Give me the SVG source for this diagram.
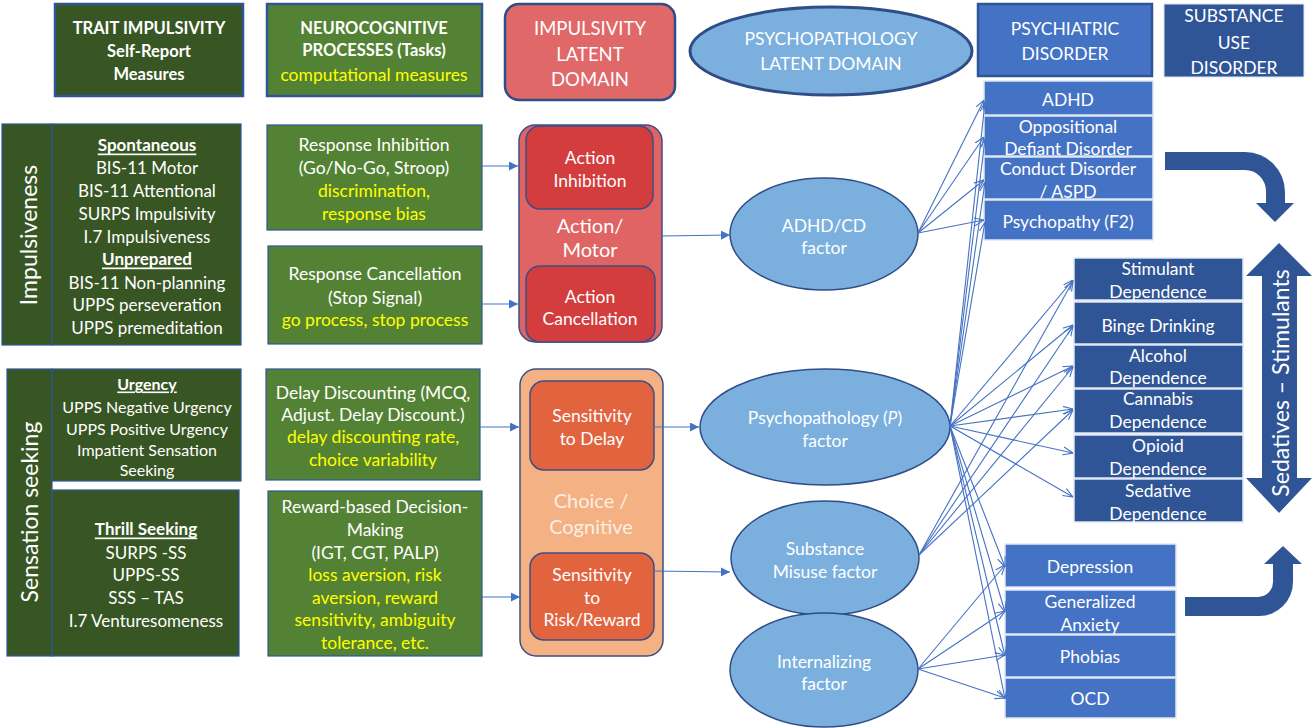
<svg xmlns="http://www.w3.org/2000/svg" width="1316" height="728" viewBox="0 0 1316 728">
<style>
text{font-family:Lato,"Open Sans",sans-serif;fill:#fff;text-anchor:middle;dominant-baseline:central;font-size:17.5px}
.b{font-weight:bold}
.u{font-weight:bold;text-decoration:underline}
.y{fill:#ffff00}
.big{font-size:18.5px}
.hdr{font-size:16.5px;font-weight:bold}
.s17{font-size:17px}
.s16{font-size:16px}
.dg{fill:#375623;stroke:#2f5597;stroke-width:1.2}
.mg{fill:#548235;stroke:#2f5597;stroke-width:1.2}
.hb{stroke-width:2.5}
.ell{fill:#7bafde;stroke:#2f4d87;stroke-width:1.5}
.pb{fill:#4472c4;stroke:#dfe6f3;stroke-width:1.5}
.sb{fill:#2f5597;stroke:#dfe6f3;stroke-width:1.5}
.ln{stroke:#4472c4;stroke-width:1.1;fill:none}
.la{marker-end:url(#open)}
.lf{marker-end:url(#fill)}
.thick{fill:#2f5597}
</style>
<defs>
<marker id="open" viewBox="0 0 10 10" refX="10" refY="5" markerWidth="10" markerHeight="10" markerUnits="userSpaceOnUse" orient="auto">
<path d="M0,1 L10,5 L0,9" fill="none" stroke="#4472c4" stroke-width="1.1"/>
</marker>
<marker id="fill" viewBox="0 0 10 10" refX="10" refY="5" markerWidth="9" markerHeight="9" markerUnits="userSpaceOnUse" orient="auto">
<path d="M0,0 L10,5 L0,10 Z" fill="#4472c4"/>
</marker>
</defs>
<rect width="1316" height="728" fill="#fff"/>

<!-- headers -->
<g id="hdr-trait">
<rect class="dg hb" x="55" y="4" width="188" height="92"/>
<text class="hdr" x="149" y="28">TRAIT IMPULSIVITY</text>
<text class="hdr" x="149" y="51">Self-Report</text>
<text class="hdr" x="149" y="74">Measures</text>
</g>
<g id="hdr-neuro">
<rect class="mg hb" x="267" y="4" width="215" height="92"/>
<text class="hdr" x="374" y="28">NEUROCOGNITIVE</text>
<text class="hdr" x="374" y="50">PROCESSES (Tasks)</text>
<text class="y" x="374" y="74">computational measures</text>
</g>
<g id="hdr-impulsivity">
<rect x="505" y="4" width="170" height="96" rx="14" fill="#e06868" stroke="#2f4d87" stroke-width="2.5"/>
<text class="big" x="590" y="28">IMPULSIVITY</text>
<text class="big" x="590" y="54">LATENT</text>
<text class="big" x="590" y="79">DOMAIN</text>
</g>
<g id="hdr-psychopathology">
<ellipse cx="831" cy="51" rx="141" ry="44" fill="#7bafde" stroke="#2f4d87" stroke-width="3"/>
<text x="831" y="38" style="font-size:17.5px">PSYCHOPATHOLOGY</text>
<text x="831" y="63" style="font-size:17.5px">LATENT DOMAIN</text>
</g>
<g id="hdr-psychiatric">
<rect x="978" y="4" width="174" height="72" fill="#4472c4" stroke="#2f5597" stroke-width="2.5"/>
<text x="1065" y="28" style="font-size:17.5px">PSYCHIATRIC</text>
<text x="1065" y="53" style="font-size:17.5px">DISORDER</text>
</g>
<g id="hdr-sud">
<rect x="1164" y="4" width="140" height="73" fill="#2f5597" stroke="#dfe6f3" stroke-width="1"/>
<text x="1234" y="15" style="font-size:17.5px">SUBSTANCE</text>
<text x="1234" y="42" style="font-size:17.5px">USE</text>
<text x="1234" y="67" style="font-size:17.5px">DISORDER</text>
</g>

<!-- trait impulsivity -->
<g id="impulsiveness">
<rect class="dg" x="2" y="124" width="50" height="221"/>
<text transform="translate(28,235) rotate(-90)" style="font-size:23px">Impulsiveness</text>
<rect class="dg" x="52" y="124" width="189" height="221"/>
<text class="u s17" x="147" y="144">Spontaneous</text>
<text class="s17" x="147" y="167">BIS-11 Motor</text>
<text class="s17" x="147" y="190">BIS-11 Attentional</text>
<text class="s17" x="147" y="213">SURPS Impulsivity</text>
<text class="s17" x="147" y="236">I.7 Impulsiveness</text>
<text class="u s17" x="147" y="258">Unprepared</text>
<text class="s17" x="147" y="282">BIS-11 Non-planning</text>
<text class="s17" x="147" y="304">UPPS perseveration</text>
<text class="s17" x="147" y="327">UPPS premeditation</text>
</g>
<g id="sensation-seeking">
<rect class="dg" x="7" y="369" width="45" height="287"/>
<text transform="translate(29,512) rotate(-90)" style="font-size:23px">Sensation seeking</text>
</g>
<g id="urgency">
<rect class="dg" x="52" y="369" width="189" height="112"/>
<text class="u s16" x="147" y="383">Urgency</text>
<text class="s16" x="147" y="406">UPPS Negative Urgency</text>
<text class="s16" x="147" y="428">UPPS Positive Urgency</text>
<text class="s16" x="147" y="449">Impatient Sensation</text>
<text class="s16" x="147" y="469">Seeking</text>
</g>
<g id="thrill">
<rect class="dg" x="52" y="490" width="187" height="166"/>
<text class="u s17" x="146" y="528">Thrill Seeking</text>
<text class="s17" x="146" y="552">SURPS -SS</text>
<text class="s17" x="146" y="574">UPPS-SS</text>
<text class="s17" x="146" y="597">SSS – TAS</text>
<text class="s17" x="146" y="620">I.7 Venturesomeness</text>
</g>

<!-- tasks -->
<g id="task-inhibition">
<rect class="mg" x="267" y="125" width="215" height="105"/>
<text x="374" y="144">Response Inhibition</text>
<text x="374" y="167">(Go/No-Go, Stroop)</text>
<text class="y" x="374" y="190">discrimination,</text>
<text class="y" x="374" y="213">response bias</text>
</g>
<g id="task-cancellation">
<rect class="mg" x="268" y="246" width="214" height="98"/>
<text x="375" y="273">Response Cancellation</text>
<text x="375" y="297">(Stop Signal)</text>
<text class="y" x="375" y="319">go process, stop process</text>
</g>
<g id="task-delay">
<rect class="mg" x="266" y="369" width="214" height="111"/>
<text x="373" y="392">Delay Discounting (MCQ,</text>
<text x="373" y="414">Adjust. Delay Discount.)</text>
<text class="y" x="373" y="436">delay discounting rate,</text>
<text class="y" x="373" y="459">choice variability</text>
</g>
<g id="task-reward">
<rect class="mg" x="268" y="491" width="214" height="165"/>
<text x="375" y="506">Reward-based Decision-</text>
<text x="375" y="529">Making</text>
<text x="375" y="552">(IGT, CGT, PALP)</text>
<text class="y" x="375" y="574">loss  aversion, risk</text>
<text class="y" x="375" y="597">aversion, reward</text>
<text class="y" x="375" y="619">sensitivity, ambiguity</text>
<text class="y" x="375" y="642">tolerance, etc.</text>
</g>

<!-- impulsivity domains -->
<g id="action-motor">
<rect x="519" y="125" width="143" height="217" rx="16" fill="#e06464" stroke="#3b4f86" stroke-width="1.5"/>
<text x="590" y="225" style="font-size:20px">Action/</text>
<text x="590" y="249" style="font-size:20px">Motor</text>
</g>
<g id="action-inhibition">
<rect x="526" y="126" width="127" height="83" rx="14" fill="#d33d3d" stroke="#3b4f86" stroke-width="1.5"/>
<text x="590" y="157">Action</text>
<text x="590" y="180">Inhibition</text>
</g>
<g id="action-cancellation">
<rect x="526" y="266" width="129" height="76" rx="14" fill="#d33d3d" stroke="#3b4f86" stroke-width="1.5"/>
<text x="590" y="296">Action</text>
<text x="590" y="318">Cancellation</text>
</g>
<g id="choice-cognitive">
<rect x="520" y="369" width="143" height="287" rx="16" fill="#f4b183" stroke="#3b4f86" stroke-width="1.5"/>
<text x="591" y="500" style="fill:#fdeee3;font-size:20px">Choice /</text>
<text x="591" y="526" style="fill:#fdeee3;font-size:20px">Cognitive</text>
</g>
<g id="sens-delay">
<rect x="530" y="381" width="124" height="89" rx="14" fill="#e2643f" stroke="#3b4f86" stroke-width="1.5"/>
<text x="592" y="415">Sensitivity</text>
<text x="592" y="438">to Delay</text>
</g>
<g id="sens-risk">
<rect x="530" y="553" width="124" height="87" rx="14" fill="#e2643f" stroke="#3b4f86" stroke-width="1.5"/>
<text x="592" y="574">Sensitivity</text>
<text x="592" y="597">to</text>
<text x="592" y="619">Risk/Reward</text>
</g>

<!-- factors -->
<g id="adhd-factor">
<ellipse class="ell" cx="824" cy="234" rx="94" ry="56"/>
<text x="824" y="225">ADHD/CD</text>
<text x="824" y="247">factor</text>
</g>
<g id="p-factor">
<ellipse class="ell" cx="825" cy="427" rx="125" ry="58"/>
<text x="825" y="417">Psychopathology (<tspan font-style="italic">P</tspan>)</text>
<text x="825" y="440">factor</text>
</g>
<g id="substance-factor">
<ellipse class="ell" cx="825" cy="558" rx="94" ry="57"/>
<text x="825" y="548">Substance</text>
<text x="825" y="571">Misuse factor</text>
</g>
<g id="internalizing-factor">
<ellipse class="ell" cx="824" cy="670" rx="94" ry="57"/>
<text x="824" y="661">Internalizing</text>
<text x="824" y="683">factor</text>
</g>

<!-- psychiatric boxes -->
<g id="adhd"><rect class="pb" x="984" y="81" width="169" height="34"/><text x="1068" y="99">ADHD</text></g>
<g id="odd"><rect class="pb" x="984" y="116" width="169" height="40"/><text x="1068" y="126">Oppositional</text><text x="1068" y="148">Defiant Disorder</text></g>
<g id="cd"><rect class="pb" x="984" y="157" width="169" height="42"/><text x="1068" y="168">Conduct Disorder</text><text x="1068" y="191">/ ASPD</text></g>
<g id="psychopathy"><rect class="pb" x="984" y="200" width="169" height="40"/><text x="1068" y="221">Psychopathy (F2)</text></g>

<!-- substance boxes -->
<g id="stimulant"><rect class="sb" x="1074" y="258" width="169" height="42"/><text x="1158" y="268">Stimulant</text><text x="1158" y="291">Dependence</text></g>
<g id="binge"><rect class="sb" x="1074" y="302" width="169" height="42"/><text x="1158" y="325">Binge Drinking</text></g>
<g id="alcohol"><rect class="sb" x="1074" y="345" width="169" height="43"/><text x="1158" y="355">Alcohol</text><text x="1158" y="377">Dependence</text></g>
<g id="cannabis"><rect class="sb" x="1074" y="389" width="169" height="44"/><text x="1158" y="398">Cannabis</text><text x="1158" y="421">Dependence</text></g>
<g id="opioid"><rect class="sb" x="1074" y="435" width="169" height="43"/><text x="1158" y="445">Opioid</text><text x="1158" y="468">Dependence</text></g>
<g id="sedative"><rect class="sb" x="1074" y="479" width="169" height="43"/><text x="1158" y="490">Sedative</text><text x="1158" y="513">Dependence</text></g>

<!-- internalizing boxes -->
<g id="depression"><rect class="pb" x="1005" y="544" width="171" height="43"/><text x="1090" y="566">Depression</text></g>
<g id="gad"><rect class="pb" x="1005" y="590" width="171" height="44"/><text x="1090" y="601">Generalized</text><text x="1090" y="624">Anxiety</text></g>
<g id="phobias"><rect class="pb" x="1005" y="635" width="171" height="42"/><text x="1090" y="656">Phobias</text></g>
<g id="ocd"><rect class="pb" x="1005" y="678" width="171" height="40"/><text x="1090" y="698">OCD</text></g>

<!-- big arrows -->
<g id="arrow-sed-stim">
<path class="thick" d="M1279,243 L1312,276 L1297,276 L1297,478 L1312,478 L1279,513 L1246,478 L1262,478 L1262,276 L1246,276 Z"/>
<text transform="translate(1280,383) rotate(-90)" style="font-size:23px">Sedatives – Stimulants</text>
</g>

<g id="connectors">
<path class="thick" d="M1165,152 L1245,152 A40,40 0 0 1 1285,192 L1285,203 L1294,203 L1275,222 L1256,203 L1266,203 L1266,191 A21,21 0 0 0 1245,170 L1165,170 Z"/>
<path class="thick" d="M1185,597 L1258,597 A15,15 0 0 0 1273,582 L1273,564 L1264,564 L1283,546 L1302,564 L1293,564 L1293,582 A34,34 0 0 1 1259,616 L1185,616 Z"/>

<line class="ln lf" x1="482" y1="166" x2="518" y2="166"/>
<line class="ln lf" x1="482" y1="304" x2="518" y2="304"/>
<line class="ln lf" x1="480" y1="427" x2="519" y2="427"/>
<line class="ln lf" x1="482" y1="597" x2="520" y2="597"/>
<line class="ln lf" x1="662" y1="236" x2="730" y2="235"/>
<line class="ln lf" x1="654" y1="427" x2="699" y2="427"/>
<line class="ln lf" x1="654" y1="571" x2="730" y2="572"/>

<line class="ln la" x1="918" y1="233" x2="984" y2="100"/>
<line class="ln la" x1="918" y1="233" x2="984" y2="137"/>
<line class="ln la" x1="918" y1="233" x2="984" y2="180"/>
<line class="ln la" x1="918" y1="233" x2="984" y2="220"/>

<line class="ln la" x1="950" y1="426" x2="985" y2="102"/>
<line class="ln la" x1="950" y1="426" x2="985" y2="139"/>
<line class="ln la" x1="950" y1="426" x2="985" y2="182"/>
<line class="ln la" x1="950" y1="426" x2="985" y2="222"/>
<line class="ln la" x1="950" y1="426" x2="1073" y2="280"/>
<line class="ln la" x1="950" y1="426" x2="1073" y2="325"/>
<line class="ln la" x1="950" y1="426" x2="1073" y2="366"/>
<line class="ln la" x1="950" y1="426" x2="1073" y2="409"/>
<line class="ln la" x1="950" y1="426" x2="1073" y2="453"/>
<line class="ln la" x1="950" y1="426" x2="1073" y2="497"/>
<line class="ln la" x1="950" y1="426" x2="1005" y2="567"/>
<line class="ln la" x1="950" y1="426" x2="1005" y2="612"/>
<line class="ln la" x1="950" y1="426" x2="1005" y2="656"/>
<line class="ln la" x1="950" y1="426" x2="1005" y2="699"/>

<line class="ln la" x1="919" y1="555" x2="1073" y2="281"/>
<line class="ln la" x1="919" y1="555" x2="1073" y2="326"/>
<line class="ln la" x1="919" y1="555" x2="1073" y2="367"/>
<line class="ln la" x1="919" y1="555" x2="1073" y2="410"/>

<line class="ln la" x1="918" y1="669" x2="1005" y2="565"/>
<line class="ln la" x1="918" y1="669" x2="1005" y2="611"/>
<line class="ln la" x1="918" y1="669" x2="1005" y2="655"/>
<line class="ln la" x1="918" y1="669" x2="1005" y2="698"/>
</g>
</svg>
